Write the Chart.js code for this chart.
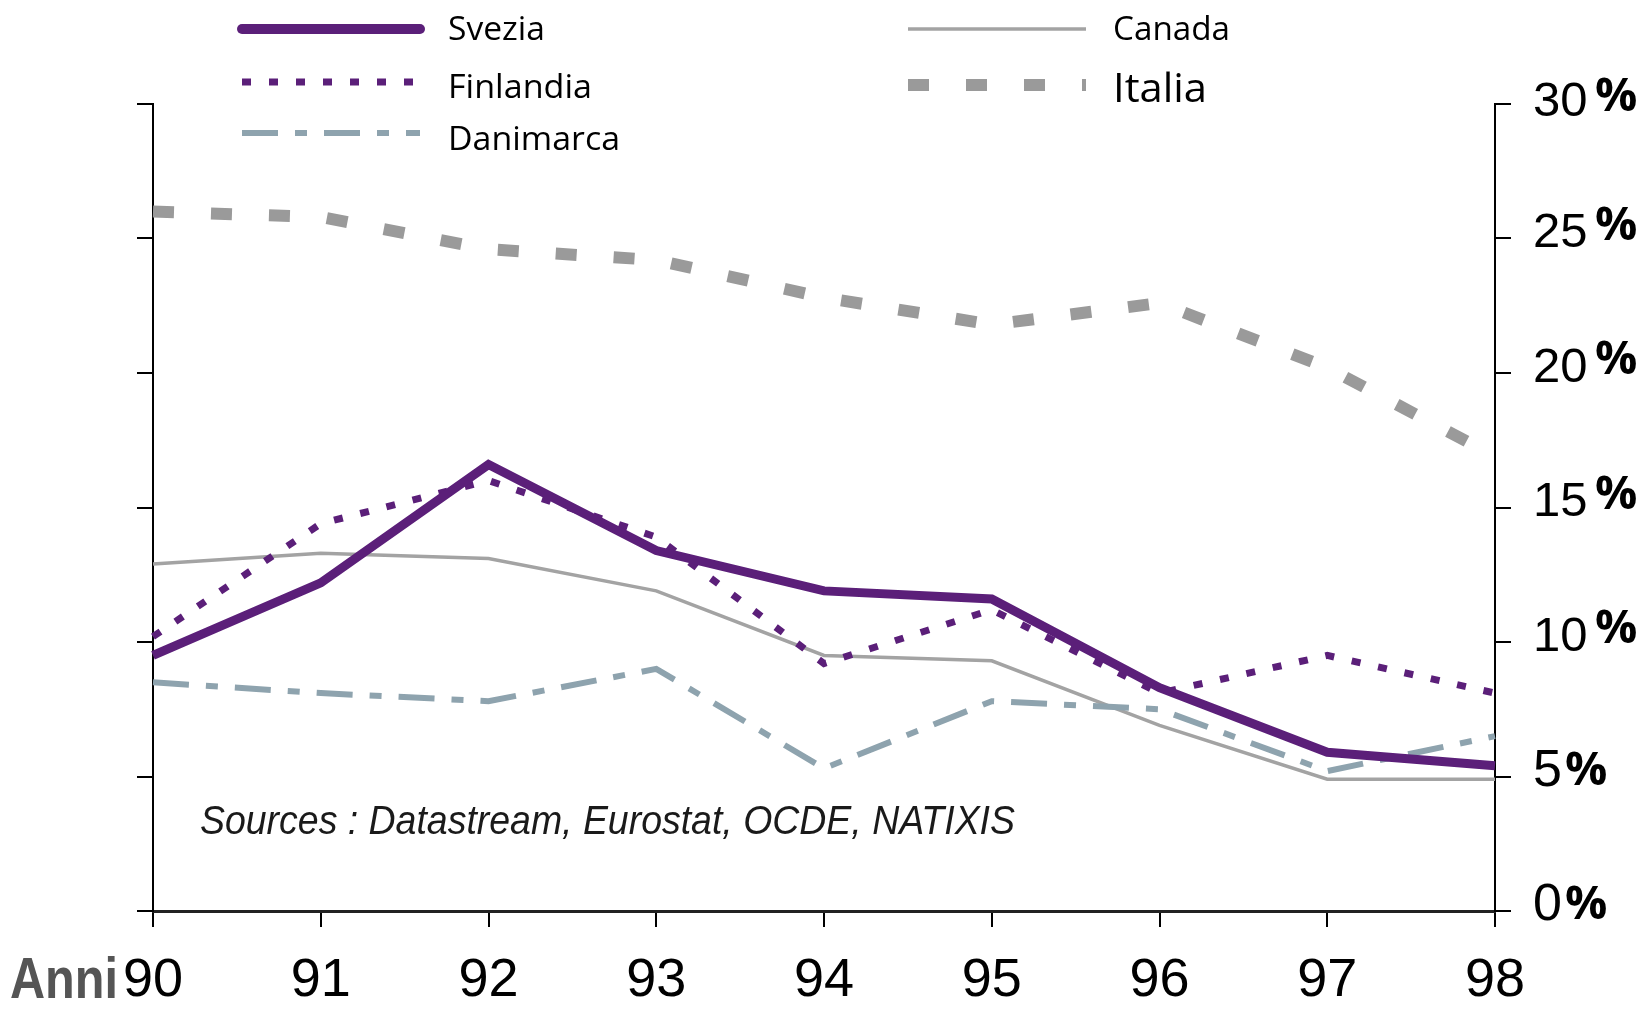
<!DOCTYPE html>
<html>
  <head>
    <meta charset="utf-8" />
    <script src="https://cdn.jsdelivr.net/npm/chart.js@4.4.1/dist/chart.umd.min.js"></script>
    <style>
      body { margin: 0; background: white; }
      #wrap { width: 1652px; height: 1009px; }
    </style>
  </head>
  <body>
    <div id="wrap"><canvas id="chart"></canvas></div>
    <script>
      // anni e valori (%)
      const years = ["90", "91", "92", "93", "94", "95", "96", "97", "98"];
      const svezia = [9.5, 12.2, 16.6, 13.4, 11.9, 11.6, 8.3, 5.9, 5.4];
      const finlandia = [10.2, 14.4, 16.0, 13.9, 9.2, 11.2, 8.1, 9.5, 8.1];
      const danimarca = [8.5, 8.1, 7.8, 9.0, 5.3, 7.8, 7.5, 5.2, 6.5];
      const canada = [12.9, 13.3, 13.1, 11.9, 9.5, 9.3, 6.9, 4.9, 4.9];
      const italia = [26.0, 25.8, 24.6, 24.2, 22.8, 21.8, 22.6, 20.2, 16.9];
      const yMin = 0, yMax = 30, yStep = 5;
      const sourceText = "Sources : Datastream, Eurostat, OCDE, NATIXIS";
      const axisTitle = "Anni";

      const PURPLE = "#5b1f79";

      function fitText(ctx, text, x, y, w) {
        const m = ctx.measureText(text).width;
        ctx.save();
        ctx.translate(x, y);
        ctx.scale(w / m, 1);
        ctx.fillText(text, 0, 0);
        ctx.restore();
      }

      // legenda: [x linea, y linea, x testo, linea di base, corpo, larghezza testo]
      const legendSpots = {
        Svezia: [242, 29, 448, 40, 32, 97],
        Finlandia: [242, 82, 448, 98, 32, 144],
        Danimarca: [242, 133, 448, 150, 32, 172],
        Canada: [908, 29, 1113, 40, 32, 117],
        Italia: [908, 85, 1113, 102, 41, 94],
      };

      const extras = {
        id: "extras",
        afterDraw(chart) {
          const ctx = chart.ctx;
          // legenda
          chart.data.datasets.forEach((ds) => {
            const s = legendSpots[ds.label];
            if (!s) return;
            ctx.save();
            ctx.strokeStyle = ds.borderColor;
            ctx.lineWidth = ds.label === "Svezia" ? 10 : ds.borderWidth;
            ctx.lineCap = ds.label === "Svezia" ? "round" : "butt";
            ctx.setLineDash(ds.borderDash || []);
            ctx.beginPath();
            ctx.moveTo(s[0], s[1]);
            ctx.lineTo(s[0] + 178, s[1]);
            ctx.stroke();
            ctx.restore();
            ctx.fillStyle = "#000";
            ctx.font = s[4] + "px 'Open Sans'";
            ctx.textBaseline = "alphabetic";
            ctx.textAlign = "left";
            fitText(ctx, ds.label, s[2], s[3], s[5]);
          });

          // etichette asse destro
          const sc = chart.scales.y2;
          ctx.textBaseline = "middle";
          ctx.textAlign = "left";
          sc.ticks.forEach((t) => {
            const y = sc.getPixelForValue(t.value);
            const two = t.value >= 10;
            const top = t.value === yMax;
            ctx.fillStyle = "#000";
            ctx.font = (two ? 49 : 52) + "px 'Liberation Sans'";
            ctx.fillText(String(t.value), 1533, y - (top ? 2 : 5));
            ctx.font = "bold 47px 'Open Sans'";
            const dy = two ? (top ? 6 : 12) : 5;
            ctx.fillText("%", two ? 1595 : 1565, y - dy);
          });

          // fonte
          ctx.fillStyle = "#1a1a1a";
          ctx.textBaseline = "middle";
          ctx.font = "italic 40px 'Liberation Sans'";
          fitText(ctx, sourceText, 200, 823, 815);

          // titolo asse x
          ctx.fillStyle = "#555";
          ctx.font = "bold 58px 'Liberation Sans'";
          fitText(ctx, axisTitle, 10, 982, 108);
        },
      };

      const tickGrid = {
        drawOnChartArea: false,
        drawTicks: true,
        tickLength: 16,
        color: "#000",
        lineWidth: 2,
      };

      new Chart(document.getElementById("chart"), {
        type: "line",
        data: {
          labels: years,
          datasets: [
            { label: "Svezia", data: svezia, borderColor: PURPLE, borderWidth: 9 },
            { label: "Finlandia", data: finlandia, borderColor: PURPLE, borderWidth: 7, borderDash: [9, 18] },
            { label: "Danimarca", data: danimarca, borderColor: "#8ea3ae", borderWidth: 6, borderDash: [36, 17, 12, 17] },
            { label: "Canada", data: canada, borderColor: "#a3a3a3", borderWidth: 3.5 },
            { label: "Italia", data: italia, borderColor: "#9a9a9a", borderWidth: 12, borderDash: [21, 37] },
          ],
        },
        options: {
          responsive: true,
          maintainAspectRatio: false,
          animation: false,
          layout: { padding: { top: 104, left: 0, right: 0, bottom: 0 } },
          elements: {
            point: { radius: 0 },
            line: { tension: 0, fill: false, borderCapStyle: "butt", borderJoinStyle: "miter" },
          },
          plugins: { legend: { display: false }, tooltip: { enabled: false } },
          scales: {
            x: {
              type: "category",
              offset: false,
              grid: tickGrid,
              border: { color: "#222", width: 3 },
              ticks: {
                color: "#000",
                font: { family: "'Liberation Sans'", size: 54 },
                padding: 22,
                maxRotation: 0,
                autoSkip: false,
              },
              afterFit(s) { s.height = 98; },
            },
            y: {
              position: "left",
              min: yMin,
              max: yMax,
              ticks: { stepSize: yStep, display: false },
              grid: tickGrid,
              border: { color: "#000", width: 2 },
              afterFit(s) { s.width = 153; },
            },
            y2: {
              position: "right",
              min: yMin,
              max: yMax,
              ticks: { stepSize: yStep, display: false },
              grid: tickGrid,
              border: { color: "#000", width: 2 },
              afterFit(s) { s.width = 157; },
            },
          },
        },
        plugins: [extras],
      });
    </script>
  </body>
</html>
